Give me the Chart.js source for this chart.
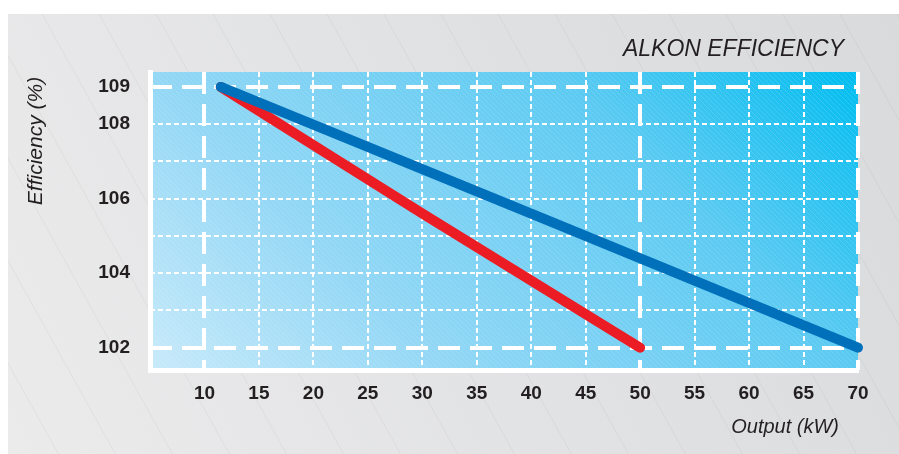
<!DOCTYPE html>
<html>
<head>
<meta charset="utf-8">
<script src="https://cdn.jsdelivr.net/npm/chart.js@4/dist/chart.umd.min.js"></script>
<style>
  html, body { margin: 0; padding: 0; background: #fff; }
  #wrap { width: 899px; height: 454px; position: relative; }
</style>
</head>
<body>
<div id="wrap"><canvas id="effChart"></canvas></div>
<script>
// data
const outputBlue = [11.5, 40, 70];
const effBlue = [109, 105.6, 102];
const outputRed = [11.5, 30, 50];
const effRed = [109, 105.6, 102];

const xTicks = [10, 15, 20, 25, 30, 35, 40, 45, 50, 55, 60, 65, 70];
const yTicks = [102, 103, 104, 105, 106, 107, 108, 109];
const yLabels = [102, 104, 106, 108, 109];
const xMajor = [10, 50, 70];
const yMajor = [102, 109];

const textColor = "#231f20";
const font = "Liberation Sans";

const toPoints = (xs, ys) => xs.map((x, i) => ({ x: x, y: ys[i] }));

// background panel, plot gradient and hatching
const backdrop = {
  id: "backdrop",
  beforeDraw(chart) {
    const ctx = chart.ctx;
    const a = chart.chartArea;
    ctx.save();

    const pg = ctx.createLinearGradient(8, 454, 899, 14);
    pg.addColorStop(0, "#ebebec");
    pg.addColorStop(1, "#d9dadc");
    ctx.fillStyle = pg;
    ctx.fillRect(8, 14, 891, 440);

    ctx.beginPath();
    ctx.rect(8, 14, 891, 440);
    ctx.clip();
    ctx.strokeStyle = "rgba(0,0,0,0.06)";
    ctx.lineWidth = 0.8;
    for (let x0 = -300; x0 < 899; x0 += 57) {
      ctx.beginPath();
      ctx.moveTo(x0, 14);
      ctx.lineTo(x0 + 440 / 1.8, 454);
      ctx.stroke();
    }
    ctx.restore();

    ctx.save();
    const w = a.right - a.left, h = a.bottom - a.top;
    const g = ctx.createLinearGradient(a.left, a.bottom, a.left + (w + h) / 2, a.bottom - (w + h) / 2);
    g.addColorStop(0, "#c8eafa");
    g.addColorStop(0.3, "#92d7f5");
    g.addColorStop(0.7, "#5ccaf2");
    g.addColorStop(1, "#00bdf0");
    ctx.fillStyle = g;
    ctx.fillRect(a.left, a.top, w, h);

    ctx.beginPath();
    ctx.rect(a.left, a.top, w, h);
    ctx.clip();
    ctx.strokeStyle = "rgba(255,255,255,0.13)";
    ctx.lineWidth = 1;
    for (let k = -h; k < w; k += 5) {
      ctx.beginPath();
      ctx.moveTo(a.left + k, a.top);
      ctx.lineTo(a.left + k + h, a.bottom);
      ctx.stroke();
    }
    ctx.restore();
  },
  beforeDatasetsDraw(chart) {
    const ctx = chart.ctx;
    const a = chart.chartArea;
    const xs = chart.scales.x, ys = chart.scales.y;
    ctx.save();
    ctx.strokeStyle = "#ffffff";

    // thin dotted grid
    ctx.lineWidth = 2;
    ctx.setLineDash([5, 3]);
    xTicks.filter(v => !xMajor.includes(v)).forEach(v => {
      const px = Math.round(xs.getPixelForValue(v));
      ctx.beginPath(); ctx.moveTo(px, a.top); ctx.lineTo(px, a.bottom); ctx.stroke();
    });
    yTicks.filter(v => !yMajor.includes(v)).forEach(v => {
      const py = Math.round(ys.getPixelForValue(v));
      ctx.beginPath(); ctx.moveTo(a.left, py); ctx.lineTo(a.right, py); ctx.stroke();
    });

    // thick dashed lines
    ctx.lineWidth = 4;
    ctx.setLineDash([22, 10]);
    xMajor.forEach(v => {
      const px = Math.round(xs.getPixelForValue(v));
      ctx.beginPath(); ctx.moveTo(px, a.top); ctx.lineTo(px, a.bottom); ctx.stroke();
    });
    yMajor.forEach(v => {
      const py = Math.round(ys.getPixelForValue(v));
      ctx.beginPath(); ctx.moveTo(a.left, py); ctx.lineTo(a.right, py); ctx.stroke();
    });
    ctx.restore();
  },
  afterDraw(chart) {
    const ctx = chart.ctx;
    ctx.save();
    ctx.fillStyle = textColor;
    ctx.textBaseline = "alphabetic";

    ctx.font = "italic 23px '" + font + "'";
    ctx.textAlign = "right";
    ctx.fillText("ALKON EFFICIENCY", 844, 56);

    ctx.font = "italic 20px '" + font + "'";
    ctx.fillText("Output (kW)", 839, 433);

    ctx.translate(42, 141);
    ctx.rotate(-Math.PI / 2);
    ctx.textAlign = "center";
    ctx.font = "italic 21px '" + font + "'";
    ctx.fillText("Efficiency (%)", 0, 0);
    ctx.restore();
  }
};

new Chart(document.getElementById("effChart"), {
  type: "line",
  data: {
    datasets: [
      {
        label: "Blue",
        data: toPoints(outputBlue, effBlue),
        borderColor: "#0070bb",
        borderWidth: 10,
        borderCapStyle: "round",
        borderJoinStyle: "round",
        pointRadius: 0,
        tension: 0,
        clip: 12
      },
      {
        label: "Red",
        data: toPoints(outputRed, effRed),
        borderColor: "#ec1c24",
        borderWidth: 10,
        borderCapStyle: "round",
        borderJoinStyle: "round",
        pointRadius: 0,
        tension: 0,
        clip: 12
      }
    ]
  },
  options: {
    responsive: true,
    maintainAspectRatio: false,
    animation: false,
    layout: { padding: { left: 0, right: 41, top: 72, bottom: 0 } },
    plugins: {
      legend: { display: false },
      tooltip: { enabled: false },
      title: { display: false }
    },
    scales: {
      x: {
        type: "linear",
        min: 5,
        max: 70,
        afterFit: s => { s.height = 84; },
        afterBuildTicks: s => { s.ticks = xTicks.map(v => ({ value: v })); },
        grid: { display: false, drawTicks: false },
        border: { display: true, color: "#ffffff", width: 5 },
        ticks: {
          padding: 12,
          color: textColor,
          font: { family: font, size: 19, weight: "bold" },
          maxRotation: 0
        }
      },
      y: {
        type: "linear",
        min: 101.4,
        max: 109.4,
        afterFit: s => { s.width = 150; },
        afterBuildTicks: s => { s.ticks = yTicks.map(v => ({ value: v })); },
        grid: { display: false, drawTicks: false },
        border: { display: true, color: "#ffffff", width: 5 },
        ticks: {
          padding: 20,
          color: textColor,
          font: { family: font, size: 19, weight: "bold" },
          callback: v => yLabels.includes(v) ? String(v) : ""
        }
      }
    }
  },
  plugins: [backdrop]
});
</script>
</body>
</html>
